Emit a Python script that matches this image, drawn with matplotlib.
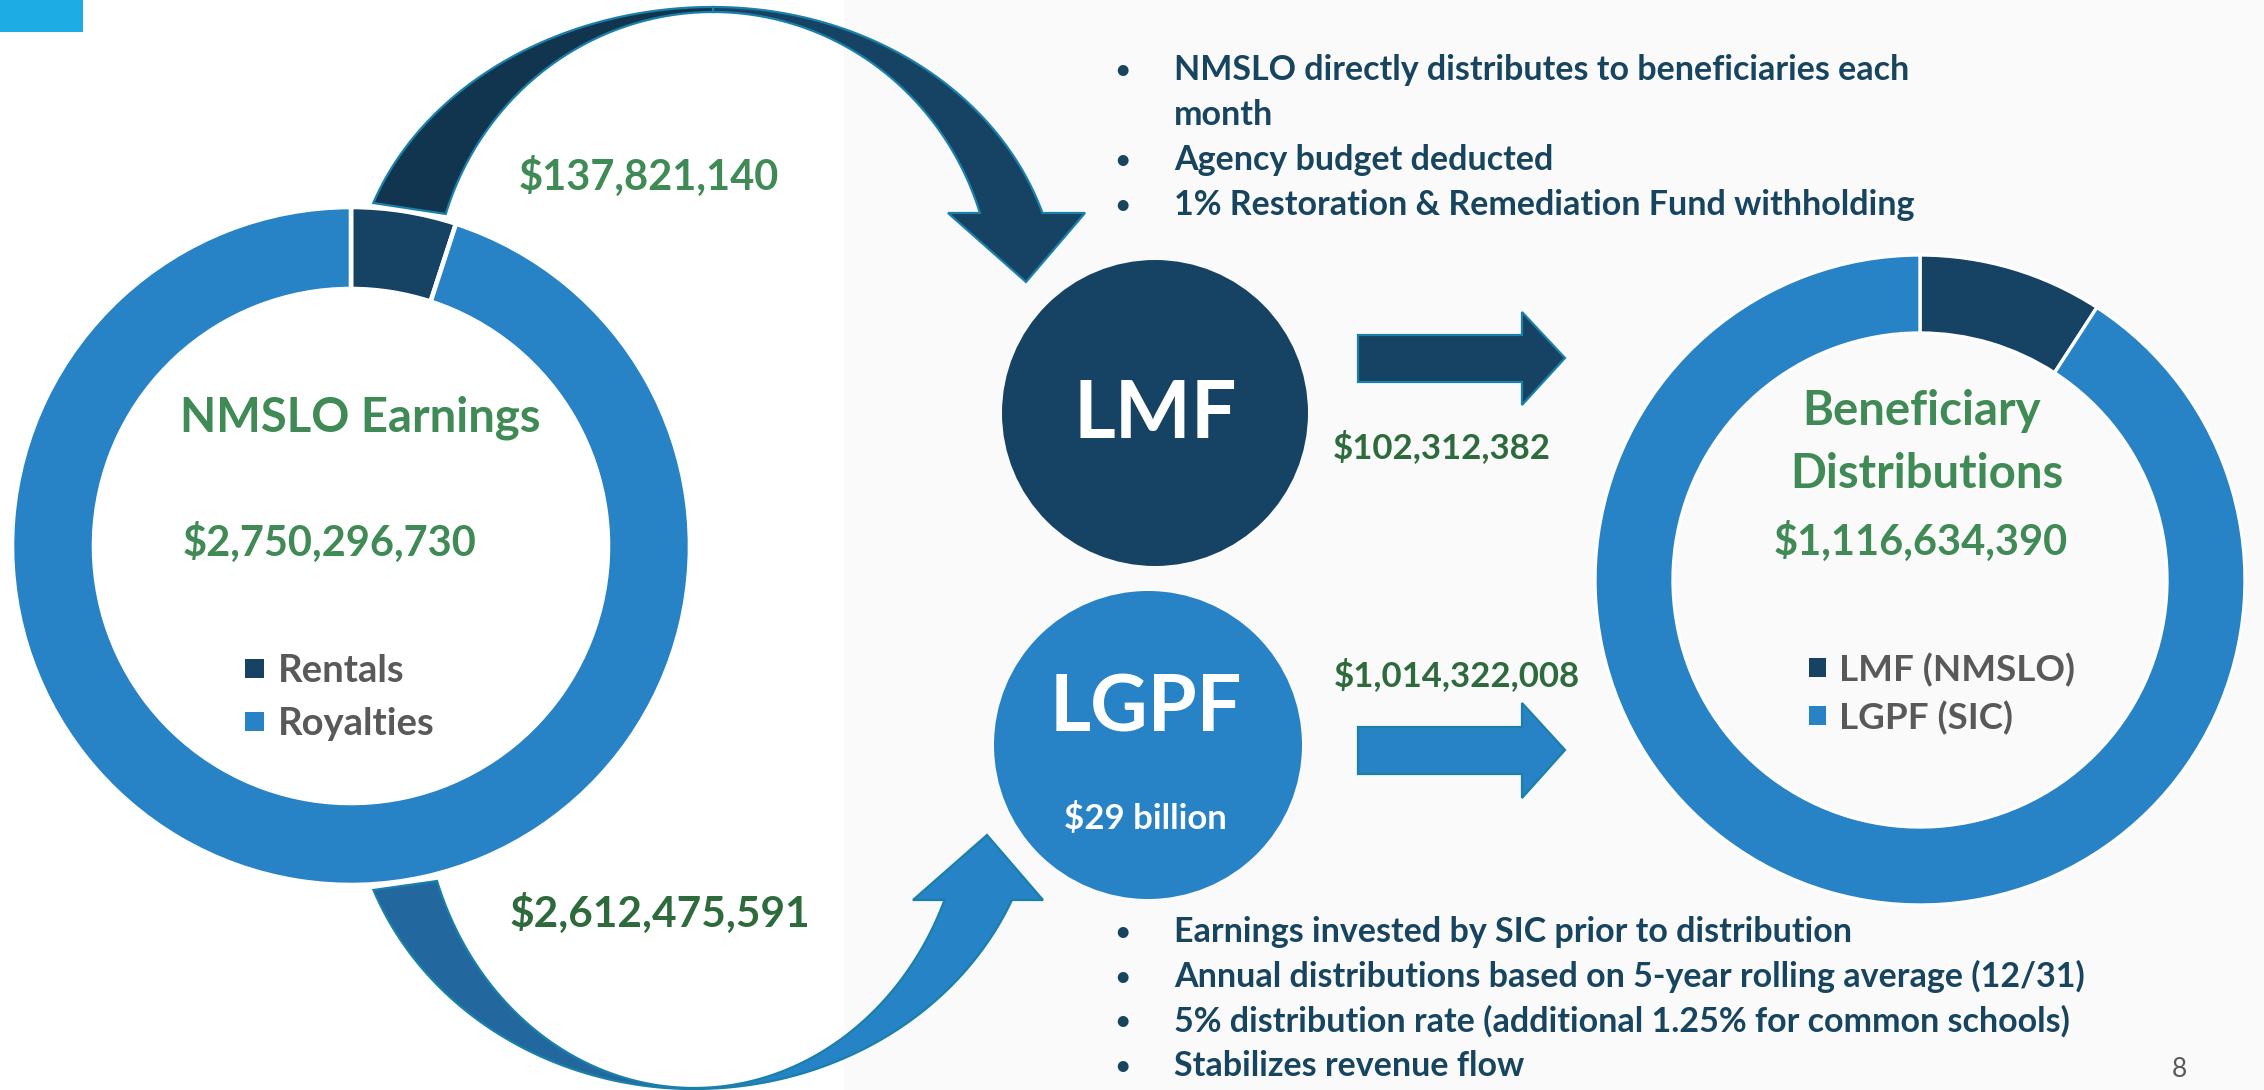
import numpy as np
import matplotlib
matplotlib.use("Agg")
import matplotlib.pyplot as plt
from matplotlib.patches import Polygon, Rectangle, Circle

# ---------------- data ----------------
earn_categories = ["Rentals", "Royalties"]
earn_values = [137821140, 2612475591]
earn_total = 2750296730
earn_title = "NMSLO Earnings"

dist_categories = ["LMF (NMSLO)", "LGPF (SIC)"]
dist_values = [102312382, 1014322008]
dist_total = 1116634390
dist_title = ["Beneficiary", "Distributions"]

fund_names = ["LMF", "LGPF"]
lgpf_size = "$29 billion"

lmf_notes = [
    ("•", "NMSLO directly distributes to beneficiaries each"),
    ("", "month"),
    ("•", "Agency budget deducted"),
    ("•", "1% Restoration & Remediation Fund withholding"),
]
lgpf_notes = [
    "Earnings invested by SIC prior to distribution",
    "Annual distributions based on 5-year rolling average (12/31)",
    "5% distribution rate (additional 1.25% for common schools)",
    "Stabilizes revenue flow",
]
page_number = "8"

# ---------------- style ----------------
DARK = "#164263"
BLUE = "#2882C6"
GREEN = "#3F8A55"
DGREEN = "#2E6B3C"
NAVY_TXT = "#17445F"
GRAY_TXT = "#595959"
TEAL = "#1A80AA"

plt.rcParams['font.family'] = ['Lato', 'DejaVu Sans']

W, H = 2264, 1090
fig = plt.figure(figsize=(W / 100, H / 100), dpi=100)
ax = fig.add_axes([0, 0, 1, 1])

# background panels
ax.add_patch(Rectangle((844, 0), W - 844, H, color="#FAFAFA", zorder=0, lw=0))
ax.add_patch(Rectangle((0, 0), 83, 32, color="#1DADE4", zorder=1, lw=0))

# ---------------- donuts ----------------
ax.pie(earn_values, colors=[DARK, BLUE], startangle=270, counterclock=True,
       center=(351, 546), radius=339,
       wedgeprops=dict(width=82, edgecolor="white", linewidth=3.3))
ax.pie(dist_values, colors=[DARK, BLUE], startangle=270, counterclock=True,
       center=(1920, 580), radius=325,
       wedgeprops=dict(width=78, edgecolor="white", linewidth=2.4))


# ---------------- curved arrows ----------------
def arc_pts(cx, cy, a, b, t0, t1, sgn, n=120):
    t = np.linspace(t0, t1, n)
    return np.column_stack([cx + a * np.sin(t), cy + sgn * b * np.cos(t)])


# top arrow (rentals -> LMF)
cx, cy = 713, 300
tb_o = -np.arccos((cy - 203) / 293)
tb_i = -np.arccos((cy - 214) / 288)
left_top = np.vstack([arc_pts(cx, cy, 360, 293, tb_o, 0, -1),
                      arc_pts(cx, cy, 280, 288, 0, tb_i, -1)])
th_o = np.arccos((cy - 213) / 293)
th_i = np.arccos((cy - 213) / 288)
right_top = np.vstack([arc_pts(cx, cy, 345, 293, 0, th_o, -1),
                       [[1085, 213], [1026, 282], [948, 213]],
                       arc_pts(cx, cy, 280, 288, th_i, 0, -1)])
ax.add_patch(Polygon(right_top, closed=True, fc=DARK, ec=TEAL, lw=1.6, zorder=3))
ax.add_patch(Polygon(left_top, closed=True, fc="#12354F", ec=TEAL, lw=1.6, zorder=3))

# bottom arrow (royalties -> LGPF)
cx, cy = 694, 780
tb_o = -np.arccos((890 - cy) / 309)
tb_i = -np.arccos((881 - cy) / 308)
left_bot = np.vstack([arc_pts(cx, cy, 343, 309, tb_o, 0, 1),
                      arc_pts(cx, cy, 272, 308, 0, tb_i, 1)])
th_o = np.arccos((900 - cy) / 309)
th_i = np.arccos((900 - cy) / 308)
right_bot = np.vstack([arc_pts(cx, cy, 345, 309, 0, th_o, 1),
                       [[1043, 900], [987, 835], [913, 900]],
                       arc_pts(cx, cy, 272, 308, th_i, 0, 1)])
ax.add_patch(Polygon(right_bot, closed=True, fc="#2683C6", ec=TEAL, lw=1.6, zorder=3))
ax.add_patch(Polygon(left_bot, closed=True, fc="#22689E", ec=TEAL, lw=1.6, zorder=3))

# ---------------- fund circles ----------------
ax.add_patch(Circle((1155, 413), 153, fc=DARK, ec="none", zorder=3))
ax.add_patch(Circle((1148, 745), 154, fc=BLUE, ec="none", zorder=3))
ax.text(1155, 438, fund_names[0], color="white", fontsize=58, fontweight="bold",
        ha="center", va="baseline", zorder=4)
ax.text(1146, 731, fund_names[1], color="white", fontsize=57, fontweight="bold",
        ha="center", va="baseline", zorder=4)
ax.text(1145, 829, lgpf_size, color="white", fontsize=25, fontweight="bold",
        ha="center", va="baseline", zorder=4)

# ---------------- straight arrows ----------------
for (y0, y1, hy0, hy1, ty, fc) in [(335, 382, 312, 405, 358, DARK),
                                   (727, 774, 703, 798, 750, BLUE)]:
    pts = [[1358, y0], [1522, y0], [1522, hy0], [1565, ty],
           [1522, hy1], [1522, y1], [1358, y1]]
    ax.add_patch(Polygon(pts, closed=True, fc=fc, ec=TEAL, lw=1.6, zorder=3))

# ---------------- texts ----------------
def money(v):
    return "${:,}".format(v)

ax.text(649, 190, money(earn_values[0]), color=GREEN, fontsize=30, fontweight="bold",
        ha="center", va="baseline", zorder=5)
ax.text(660, 927, money(earn_values[1]), color=DGREEN, fontsize=30.5, fontweight="bold",
        ha="center", va="baseline", zorder=5)
ax.text(360, 432, earn_title, color=GREEN, fontsize=34, fontweight="bold",
        ha="center", va="baseline", zorder=5)
ax.text(330, 556, money(earn_total), color=GREEN, fontsize=30, fontweight="bold",
        ha="center", va="baseline", zorder=5)

ax.text(1442, 458, money(dist_values[0]), color=DGREEN, fontsize=25, fontweight="bold",
        ha="center", va="baseline", zorder=5)
ax.text(1457, 686, money(dist_values[1]), color=DGREEN, fontsize=25, fontweight="bold",
        ha="center", va="baseline", zorder=5)

ax.text(1921, 425, dist_title[0], color=GREEN, fontsize=34, fontweight="bold",
        ha="center", va="baseline", zorder=5)
ax.text(1927, 488, dist_title[1], color=GREEN, fontsize=34, fontweight="bold",
        ha="center", va="baseline", zorder=5)
ax.text(1921, 555, money(dist_total), color=GREEN, fontsize=30, fontweight="bold",
        ha="center", va="baseline", zorder=5)

# legends
for i, (cat, col) in enumerate(zip(earn_categories, [DARK, BLUE])):
    yb = [682, 735][i]
    ax.add_patch(Rectangle((245, yb - 23), 19, 19, fc=col, ec="none", zorder=5))
    ax.text(278, yb, cat, color=GRAY_TXT, fontsize=27.5, fontweight="bold",
            ha="left", va="baseline", zorder=5)
for i, (cat, col) in enumerate(zip(dist_categories, [DARK, BLUE])):
    yb = [681, 729][i]
    ax.add_patch(Rectangle((1809, yb - 23), 17, 19, fc=col, ec="none", zorder=5))
    ax.text(1839, yb, cat, color=GRAY_TXT, fontsize=26.5, fontweight="bold",
            ha="left", va="baseline", zorder=5)

# bullet lists
BFS = 24.5
for i, (b, line) in enumerate(lmf_notes):
    yb = 80 + 45 * i
    if b:
        ax.text(1122, yb - 2, b, color=NAVY_TXT, fontsize=18, fontweight="bold",
                ha="center", va="baseline", zorder=5)
    ax.text(1174, yb, line, color=NAVY_TXT, fontsize=BFS, fontweight="bold",
            ha="left", va="baseline", zorder=5)
for i, line in enumerate(lgpf_notes):
    yb = 942 + 44.7 * i
    ax.text(1122, yb - 2, "•", color=NAVY_TXT, fontsize=18, fontweight="bold",
            ha="center", va="baseline", zorder=5)
    ax.text(1174, yb, line, color=NAVY_TXT, fontsize=BFS, fontweight="bold",
            ha="left", va="baseline", zorder=5)

ax.text(2179, 1077, page_number, color=GRAY_TXT, fontsize=19,
        ha="center", va="baseline", zorder=5)

ax.set_aspect("auto")
ax.set_xlim(0, W)
ax.set_ylim(H, 0)
ax.axis("off")
fig.savefig("out.png", dpi=100, facecolor="white")
